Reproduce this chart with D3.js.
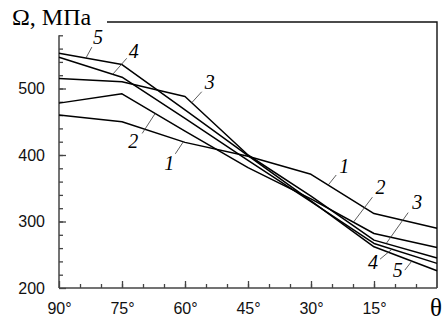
<!DOCTYPE html>
<html>
<head>
<meta charset="utf-8">
<script src="https://cdn.jsdelivr.net/npm/d3@7"></script>
<style>
  body { margin: 0; background: #fff; }
  svg { display: block; }
  .tick text { font-family: "Liberation Sans", Arial, sans-serif; font-size: 16px; fill: #111; }
</style>
</head>
<body>
<div class="container"></div>
<script>
// values
const angles = [90, 75, 60, 45, 30, 15, 0]
const curve1 = [460, 450, 419, 398, 371, 312, 290]
const curve2 = [478, 492, 436, 381, 334, 282, 261]
const curve3 = [515, 510, 488, 400, 338, 272, 245]
const curve4 = [547, 517, 455, 392, 330, 267, 237]
const curve5 = [553, 536, 468, 399, 331, 262, 226]
const curveNames = ["1", "2", "3", "4", "5"]

const xMajor = [90, 75, 60, 45, 30, 15]
const xMinor = d3.range(5, 90, 5)
const yLabels = [200, 300, 400, 500]
const yMinor = d3.range(220, 600, 20)

// label anchors: angle on the curve, leader end offset and text offset (px)
const labelsLeft = [
  { c: 0, a: 60.4, lx: -8, ly: 12, tx: -14, ty: 28 },
  { c: 1, a: 67.1, lx: -13, ly: 20, tx: -22, ty: 35 },
  { c: 2, a: 58.4, lx: 10, ly: -11, tx: 18, ty: -14 },
  { c: 3, a: 77.2, lx: 14, ly: -16, tx: 21, ty: -16 },
  { c: 4, a: 83.6, lx: 6, ly: -11, tx: 12, ty: -14 }
]
const labelsRight = [
  { c: 0, a: 25.9, lx: 8, ly: -10, tx: 16, ty: -12 },
  { c: 1, a: 19.9, lx: 19, ly: -25, tx: 27, ty: -28 },
  { c: 2, a: 12.1, lx: 22, ly: -31, tx: 31, ty: -35 },
  { c: 3, a: 10.7, lx: -12, ly: 10, tx: -19, ty: 20 },
  { c: 4, a: 6.0, lx: -7, ly: 9, tx: -14, ty: 16 }
]

const w = 446
const h = 320
const curves = [curve1, curve2, curve3, curve4, curve5]

const xScale = d3.scaleLinear().domain([90, 0]).range([59, 437])
const yScale = d3.scaleLinear().domain([200, 600]).range([288, 22])

const svg = d3.select(".container")
.append("svg")
.attr("width", w)
.attr("height", h)
.style("background", "#fff")

// frame top + right
svg.append("path")
.attr("d", "M107," + yScale(600) + "H" + xScale(0) + "V" + yScale(200))
.attr("fill", "none")
.attr("stroke", "#111")
.attr("stroke-width", 1.4)

// x axis
svg.append("g")
.attr("transform", "translate(0," + yScale(200) + ")")
.call(d3.axisBottom(xScale).tickValues(xMinor).tickSize(-4).tickSizeOuter(0).tickFormat(""))
.call(g => g.select(".domain").remove())

svg.append("g")
.attr("transform", "translate(0," + yScale(200) + ")")
.call(d3.axisBottom(xScale).tickValues(xMajor).tickSize(-7).tickSizeOuter(0).tickPadding(15).tickFormat(d => d + "°"))
.call(g => g.select(".domain").remove())

svg.append("line")
.attr("x1", xScale(90)).attr("x2", xScale(0))
.attr("y1", yScale(200)).attr("y2", yScale(200))
.attr("stroke", "#444").attr("stroke-width", 1.5)

// y axis
svg.append("g")
.attr("transform", "translate(" + xScale(90) + ",0)")
.call(d3.axisLeft(yScale).tickValues(yMinor).tickSize(-4).tickSizeOuter(0).tickFormat(""))
.call(g => g.select(".domain").remove())

svg.append("g")
.attr("transform", "translate(" + xScale(90) + ",0)")
.call(d3.axisLeft(yScale).tickValues(yLabels).tickSize(-7).tickSizeOuter(0).tickPadding(14))
.call(g => g.select(".domain").remove())

svg.append("line")
.attr("x1", xScale(90)).attr("x2", xScale(90))
.attr("y1", yScale(200)).attr("y2", yScale(580))
.attr("stroke", "#444").attr("stroke-width", 1.5)

svg.selectAll(".tick line").attr("stroke", "#444").attr("stroke-width", 1.3)

// curves
const line = d3.line()
.x((d, i) => xScale(angles[i]))
.y(d => yScale(d))

svg.selectAll(".curve")
.data(curves)
.enter()
.append("path")
.attr("class", "curve")
.attr("d", line)
.attr("fill", "none")
.attr("stroke", "#000")
.attr("stroke-width", 1.5)
.attr("stroke-linejoin", "round")

// value of a curve at some angle
const valueAt = (vals, a) => {
    const s = d3.scaleLinear().domain(angles).range(vals)
    return s(a)
}

const labels = labelsLeft.concat(labelsRight)
labels.forEach(l => {
    const px = xScale(l.a)
    const py = yScale(valueAt(curves[l.c], l.a))
    svg.append("line")
    .attr("x1", px).attr("y1", py)
    .attr("x2", px + l.lx).attr("y2", py + l.ly)
    .attr("stroke", "#333")
    .attr("stroke-width", 0.8)
    svg.append("text")
    .attr("x", px + l.tx)
    .attr("y", py + l.ty)
    .attr("text-anchor", "middle")
    .style("font-family", "'Liberation Serif', 'Times New Roman', serif")
    .style("font-style", "italic")
    .style("font-size", "20px")
    .text(curveNames[l.c])
})

// axis titles
svg.append("text")
.attr("x", 12)
.attr("y", 25)
.style("font-family", "'Liberation Serif', 'Times New Roman', serif")
.style("font-size", "24px")
.text("Ω, МПа")

svg.append("text")
.attr("x", 436)
.attr("y", 316)
.attr("text-anchor", "middle")
.style("font-family", "'Liberation Serif', 'Times New Roman', serif")
.style("font-size", "25px")
.text("θ")
</script>
</body>
</html>
